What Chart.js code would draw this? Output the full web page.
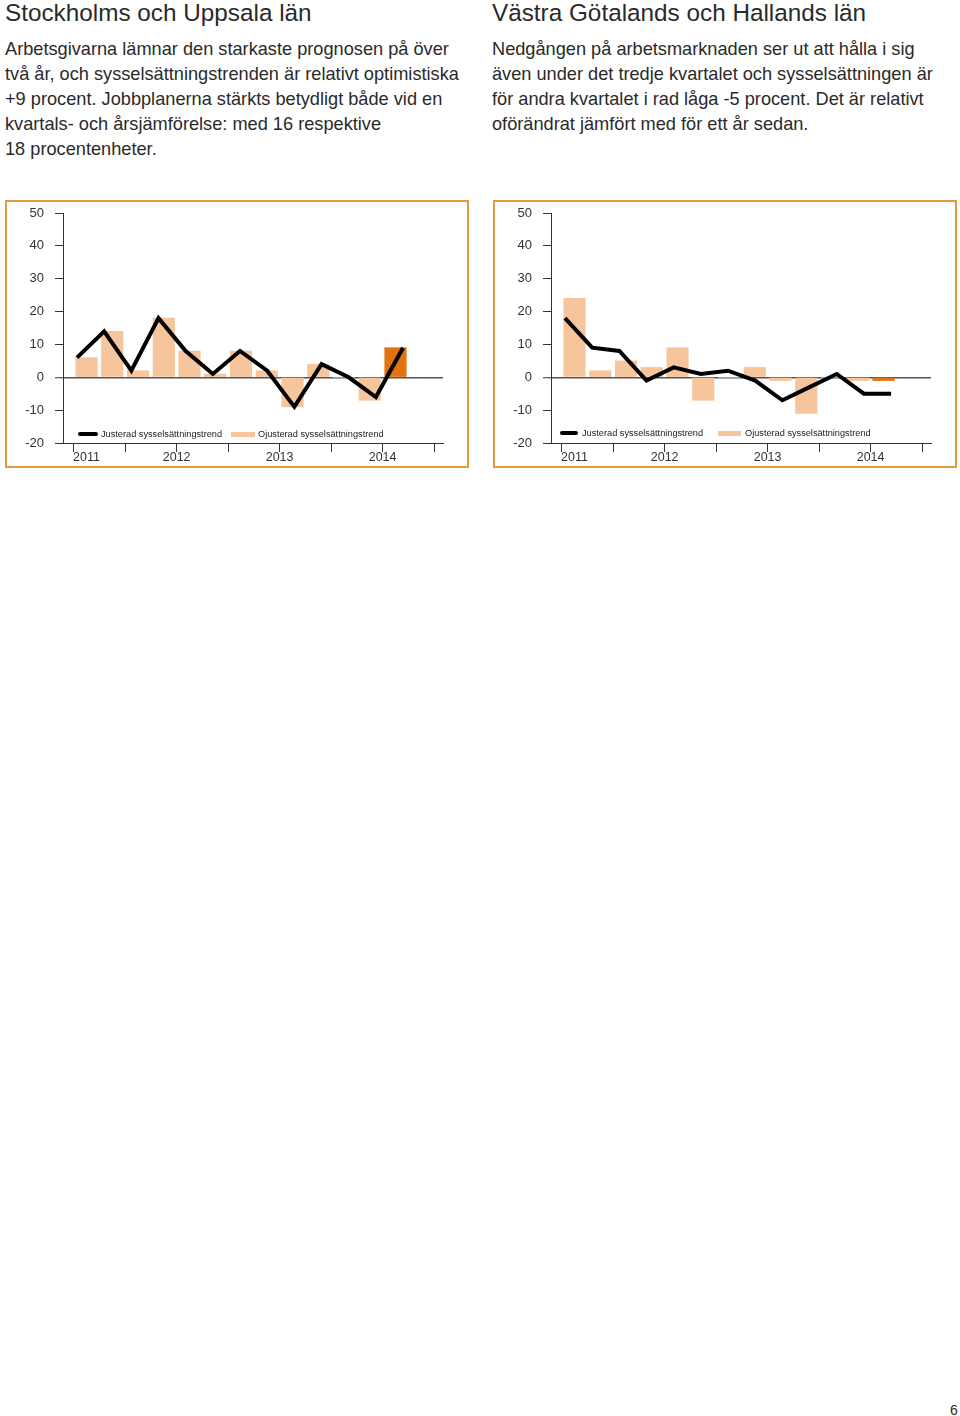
<!DOCTYPE html>
<html>
<head>
<meta charset="utf-8">
<script src="https://cdn.jsdelivr.net/npm/chart.js@4.4.1/dist/chart.umd.min.js"></script>
<style>
  body { margin: 0; width: 960px; height: 1416px; background: #fff; position: relative; overflow: hidden;
         font-family: "Liberation Sans", Arial, sans-serif; color: #2a2a2a; }
  .head { position: absolute; top: 0; margin: 0; font-weight: normal; font-size: 24.3px; line-height: 25px; white-space: nowrap; }
  .body { position: absolute; top: 37px; margin: 0; font-size: 18.2px; line-height: 25px; white-space: nowrap; }
  .box { position: absolute; top: 200px; width: 460px; height: 264px; border: 2px solid #E39A3E; }
  canvas { position: absolute; top: 202px; }
  .leg { position: absolute; font-size: 9.2px; line-height: 10px; color: #1a1a1a; white-space: nowrap; }
  .swLine { position: absolute; height: 4px; background: #000; border-radius: 2px; }
  .swBar { position: absolute; height: 5px; background: #F7C59B; }
  .pg { position: absolute; left: 950px; top: 1403px; font-size: 14px; line-height: 14px; }
</style>
</head>
<body>

<div class="head" style="left:5px">Stockholms och Uppsala län</div>
<div class="body" style="left:5px">Arbetsgivarna lämnar den starkaste prognosen på över<br>två år, och sysselsättningstrenden är relativt optimistiska<br>+9 procent. Jobbplanerna stärkts betydligt både vid en<br>kvartals- och årsjämförelse: med 16 respektive<br>18 procentenheter.</div>

<div class="head" style="left:492px">Västra Götalands och Hallands län</div>
<div class="body" style="left:492px">Nedgången på arbetsmarknaden ser ut att hålla i sig<br>även under det tredje kvartalet och sysselsättningen är<br>för andra kvartalet i rad låga -5 procent. Det är relativt<br>oförändrat jämfört med för ett år sedan.</div>

<div class="box" style="left:5px"></div>
<div class="box" style="left:493px"></div>
<canvas id="stoChart" width="460" height="264" style="left:7px"></canvas>
<canvas id="vgChart" width="460" height="264" style="left:495px"></canvas>

<!-- legends -->
<div class="swLine" style="left:78px;top:432px;width:20px"></div>
<div class="leg" style="left:101px;top:429px">Justerad sysselsättningstrend</div>
<div class="swBar" style="left:231px;top:432px;width:24px"></div>
<div class="leg" style="left:258px;top:429px">Ojusterad sysselsättningstrend</div>

<div class="swLine" style="left:560px;top:431px;width:18px"></div>
<div class="leg" style="left:582px;top:428px">Justerad sysselsättningstrend</div>
<div class="swBar" style="left:718px;top:431px;width:23px"></div>
<div class="leg" style="left:745px;top:428px">Ojusterad sysselsättningstrend</div>

<div class="pg">6</div>

<script>
// quarters 2011 K1 .. 2014 K1, last one is the forecast
const quarters = ["2011 K1","2011 K2","2011 K3","2011 K4","2012 K1","2012 K2","2012 K3","2012 K4",
                  "2013 K1","2013 K2","2013 K3","2013 K4","2014 K1"];
const years = ["2011", "2012", "2013", "2014"];
const yTicks = [-20, -10, 0, 10, 20, 30, 40, 50];

// Stockholms och Uppsala län
const stoTrend = [6, 14, 2, 18, 8, 1, 8, 2, -9, 4, 0, -6, 9];
const stoRaw   = [6, 14, 2, 18, 8, 1, 8, 2, -9, 4, 0, -7, 9];

// Västra Götalands och Hallands län
const vgTrend = [18, 9, 8, -1, 3, 1, 2, -1, -7, -3, 1, -5, -5];
const vgRaw   = [24, 2, 5, 3, 9, -7, 0, 3, -1, -11, 0, -1, -1];

const LIGHT = "#F7C59B";
const DARK = "#E2730E";
const INK = "#333";

// tick marks every half year (between quarters), year labels under them
const boundaries = [];
for (let v = -0.5; v <= quarters.length + 0.5; v += 2) boundaries.push(v);
const yearPos = years.map((_, k) => k === 0 ? 0 : 4 * k - 0.5);
const xTickVals = [...new Set([...boundaries, ...yearPos])].sort((a, b) => a - b);

function makeChart(id, raw, trend) {
  const last = raw.length - 1;
  return new Chart(document.getElementById(id), {
    type: "bar",
    data: {
      datasets: [
        {
          type: "line",
          label: "Justerad sysselsättningstrend",
          data: trend.map((y, i) => ({ x: i, y })),
          xAxisID: "x2",
          borderColor: "#000",
          borderWidth: 4,
          pointRadius: 0,
          tension: 0,
          order: 0
        },
        {
          label: "Ojusterad sysselsättningstrend",
          data: raw.map((y, i) => ({ x: i, y })),
          xAxisID: "x",
          backgroundColor: ctx => ctx.dataIndex === last ? DARK : LIGHT,
          borderWidth: 0,
          grouped: false,
          barThickness: 21.5,
          order: 1
        }
      ]
    },
    options: {
      responsive: false,
      animation: false,
      layout: { padding: { top: 11, right: 24, left: 0, bottom: 0 } },
      plugins: { legend: { display: false }, tooltip: { enabled: false } },
      scales: {
        x: {
          type: "linear",
          min: -0.913,
          max: 13.845,
          offset: false,
          afterFit: s => { s.height = 23; s.paddingLeft = 0; s.paddingRight = 0; },
          afterBuildTicks: s => { s.ticks = xTickVals.map(v => ({ value: v })); },
          border: { display: true, color: INK, width: 1 },
          grid: {
            offset: false,
            drawOnChartArea: false,
            drawTicks: true,
            tickLength: 9,
            tickWidth: 1,
            tickColor: ctx => boundaries.includes(ctx.tick.value) ? INK : "rgba(0,0,0,0)"
          },
          ticks: {
            autoSkip: false,
            maxRotation: 0,
            padding: -2,
            color: INK,
            font: { family: "Liberation Sans", size: 12.5 },
            callback: v => {
              const k = yearPos.indexOf(v);
              return k >= 0 ? years[k] : "";
            }
          }
        },
        x2: {
          type: "linear",
          display: false,
          min: -0.515,
          max: 13.47,
          offset: false
        },
        y: {
          min: yTicks[0],
          max: yTicks[yTicks.length - 1],
          afterFit: s => { s.width = 56; s.paddingTop = 0; s.paddingBottom = 0; },
          afterBuildTicks: s => { s.ticks = yTicks.map(v => ({ value: v })); },
          border: { display: true, color: INK, width: 1 },
          grid: {
            drawOnChartArea: true,
            color: ctx => ctx.tick && ctx.tick.value === 0 ? "#555" : "rgba(0,0,0,0)",
            lineWidth: ctx => ctx.tick && ctx.tick.value === 0 ? 1.5 : 1,
            tickColor: INK,
            tickLength: 8,
            tickWidth: 1
          },
          ticks: {
            padding: 11,
            color: INK,
            font: { family: "Liberation Sans", size: 13 }
          }
        }
      }
    }
  });
}

makeChart("stoChart", stoRaw, stoTrend);
makeChart("vgChart", vgRaw, vgTrend);
</script>
</body>
</html>
